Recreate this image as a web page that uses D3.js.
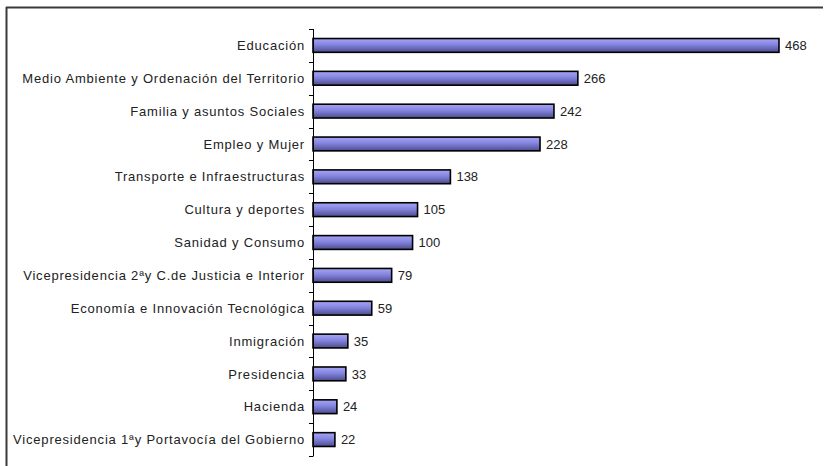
<!DOCTYPE html>
<html>
<head>
<meta charset="utf-8">
<script src="https://cdn.jsdelivr.net/npm/d3@7"></script>
<style>
  html, body { margin: 0; padding: 0; background: #fff; }
  svg { display: block; }
  text { font-family: "Liberation Sans", Arial, sans-serif; }
</style>
</head>
<body>
<svg id="chart" width="826" height="466"></svg>
<script>
// Consejerías and their counts
const categories = [
  "Educación",
  "Medio Ambiente y Ordenación del Territorio",
  "Familia y asuntos Sociales",
  "Empleo y Mujer",
  "Transporte e Infraestructuras",
  "Cultura y deportes",
  "Sanidad y Consumo",
  "Vicepresidencia 2ªy C.de Justicia e Interior",
  "Economía e Innovación Tecnológica",
  "Inmigración",
  "Presidencia",
  "Hacienda",
  "Vicepresidencia 1ªy Portavocía del Gobierno"
];
const values = [468, 266, 242, 228, 138, 105, 100, 79, 59, 35, 33, 24, 22];

const svg = d3.select("#chart");
const W = 826, H = 466;

// Outer frame: top and left edges
svg.append("line").attr("x1", 6).attr("x2", 823).attr("y1", 7.5).attr("y2", 7.5)
  .attr("stroke", "#3a3a3a").attr("stroke-width", 2);
svg.append("line").attr("x1", 6.5).attr("x2", 6.5).attr("y1", 7).attr("y2", H)
  .attr("stroke", "#3a3a3a").attr("stroke-width", 2);

const plot = { left: 313, top: 29, bottom: 456 };

const x = d3.scaleLinear().domain([0, 500]).range([plot.left, plot.left + 500 * 0.9957]);
const y = d3.scaleBand().domain(categories).range([plot.top, plot.bottom]).paddingInner(0.58).paddingOuter(0.29);
const yTicks = d3.scaleBand().domain(categories).range([plot.top, plot.bottom]);

// Bar gradient (light top, darker bottom)
const defs = svg.append("defs");
const grad = defs.append("linearGradient").attr("id", "barGrad")
  .attr("x1", 0).attr("x2", 0).attr("y1", 0).attr("y2", 1);
grad.append("stop").attr("offset", "0%").attr("stop-color", "#a6a6f4");
grad.append("stop").attr("offset", "45%").attr("stop-color", "#8484e0");
grad.append("stop").attr("offset", "100%").attr("stop-color", "#4c4c8c");

const data = categories.map((c, i) => ({ c, v: values[i] }));

// Bars
svg.append("g").selectAll("rect").data(data).join("rect")
  .attr("x", x(0))
  .attr("y", d => y(d.c))
  .attr("width", d => x(d.v) - x(0))
  .attr("height", y.bandwidth())
  .attr("fill", "url(#barGrad)")
  .attr("stroke", "#000")
  .attr("stroke-width", 1.6);

// Category axis with boundary ticks
const axisG = svg.append("g");
axisG.append("line").attr("x1", plot.left + 0.5).attr("x2", plot.left + 0.5)
  .attr("y1", plot.top).attr("y2", plot.bottom).attr("stroke", "#000");
const tickPos = categories.map(c => yTicks(c)).concat([plot.bottom]);
axisG.selectAll("line.tick").data(tickPos).join("line").attr("class", "tick")
  .attr("x1", plot.left - 4).attr("x2", plot.left + 0.5)
  .attr("y1", d => Math.round(d) + 0.5).attr("y2", d => Math.round(d) + 0.5)
  .attr("stroke", "#000");

// Category labels
svg.append("g").selectAll("text").data(data).join("text")
  .attr("x", plot.left - 8)
  .attr("y", d => yTicks(d.c) + yTicks.bandwidth() / 2)
  .attr("dy", "0.36em")
  .attr("text-anchor", "end")
  .attr("font-size", 13)
  .attr("letter-spacing", "0.8px")
  .attr("fill", "#222")
  .text(d => d.c);

// Value labels
svg.append("g").selectAll("text").data(data).join("text")
  .attr("x", d => x(d.v) + 6)
  .attr("y", d => yTicks(d.c) + yTicks.bandwidth() / 2)
  .attr("dy", "0.36em")
  .attr("font-size", 13)
  .attr("fill", "#222")
  .text(d => d.v);
</script>
</body>
</html>
